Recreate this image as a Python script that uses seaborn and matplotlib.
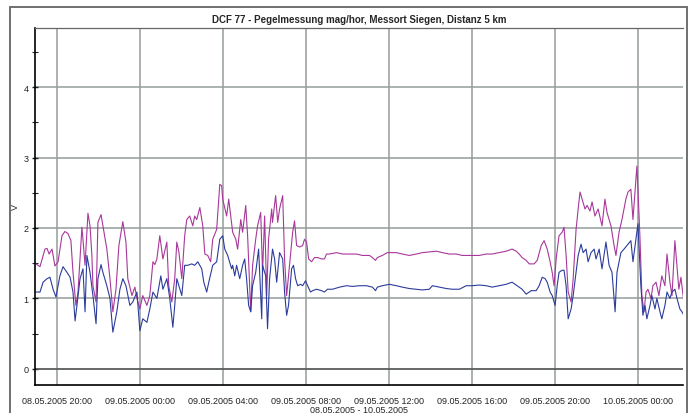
import numpy as np
import pandas as pd
import matplotlib
matplotlib.use("Agg")
import matplotlib.pyplot as plt
import matplotlib.dates as mdates
import matplotlib.ticker as mticker
from matplotlib.patches import Rectangle
import seaborn as sns

TITLE = "DCF 77 - Pegelmessung mag/hor, Messort Siegen, Distanz 5 km"
X_LABEL = "08.05.2005 - 10.05.2005"
Y_LABEL = "V"
START = pd.Timestamp("2005-05-08 20:00")

# hours since 08.05.2005 20:00 / level in V
mag_hours = [
    -1.01, -0.82, -0.58, -0.48, -0.38, -0.24, -0.10, 0.05, 0.24, 0.38, 0.53, 0.67, 0.77, 0.91,
    1.01, 1.20, 1.25, 1.35, 1.44, 1.49, 1.59, 1.68, 1.73, 1.88, 1.97, 2.12, 2.21, 2.40, 2.55,
    2.69, 2.84, 2.98, 3.17, 3.32, 3.41, 3.61, 3.75, 3.85, 3.99, 4.13, 4.33, 4.47, 4.62, 4.71,
    4.81, 4.95, 5.10, 5.29, 5.38, 5.53, 5.67, 5.77, 5.87, 6.01, 6.15, 6.25, 6.39, 6.54, 6.63,
    6.73, 6.88, 7.02, 7.12, 7.26, 7.40, 7.50, 7.69, 7.84, 7.93, 7.98, 8.17, 8.27, 8.46, 8.61,
    8.70, 8.85, 8.94, 9.09, 9.18, 9.33, 9.42, 9.57, 9.66, 9.81, 9.90, 10.00, 10.10, 10.19,
    10.34, 10.38, 10.53, 10.63, 10.72, 10.87, 10.96, 11.06, 11.20, 11.35, 11.44, 11.54, 11.68,
    11.83, 11.92, 12.02, 12.12, 12.26, 12.40, 12.55, 12.74, 12.88, 12.98, 13.13, 13.46, 13.75,
    14.09, 14.42, 14.71, 15.05, 15.19, 15.34, 15.43, 15.67, 15.91, 16.35, 16.63, 16.97, 17.31,
    17.60, 17.93, 18.27, 18.56, 18.89, 19.23, 19.52, 19.71, 20.00, 20.34, 20.67, 20.96, 21.30,
    21.63, 21.92, 22.12, 22.26, 22.40, 22.60, 22.74, 22.98, 23.13, 23.32, 23.46, 23.61, 23.75,
    23.85, 23.94, 24.04, 24.18, 24.33, 24.42, 24.52, 24.62, 24.76, 24.86, 25.00, 25.10, 25.19,
    25.29, 25.43, 25.53, 25.67, 25.77, 25.91, 26.06, 26.25, 26.39, 26.49, 26.68, 26.83, 26.92,
    27.07, 27.21, 27.40, 27.50, 27.64, 27.74, 27.84, 27.93, 27.98, 28.08, 28.17, 28.27, 28.37,
    28.46, 28.61, 28.70, 28.85, 28.99, 29.13, 29.28, 29.38, 29.52, 29.62, 29.76, 29.86, 29.95,
    30.05, 30.19,
]
mag_values = [
    1.49, 1.45, 1.70, 1.71, 1.63, 1.70, 1.46, 1.52, 1.89, 1.95, 1.92, 1.82, 1.37, 0.90,
    1.09, 2.01, 1.84, 1.47, 1.94, 2.21, 2.03, 1.61, 1.18, 0.95, 2.08, 2.19, 2.03, 1.70, 1.28,
    0.81, 1.13, 1.75, 2.09, 1.80, 1.28, 1.04, 1.16, 1.00, 0.85, 1.04, 0.90, 1.04, 1.52, 1.48,
    1.56, 1.89, 1.56, 1.80, 1.18, 0.95, 1.28, 1.80, 1.66, 1.28, 1.89, 2.12, 2.17, 2.03, 2.17,
    2.12, 2.29, 2.03, 1.63, 1.61, 1.52, 1.84, 1.98, 2.62, 2.60, 2.41, 2.17, 2.41, 1.94, 1.84,
    1.70, 2.12, 1.94, 2.32, 1.89, 0.81, 1.47, 1.84, 2.03, 2.22, 1.37, 2.17, 1.04, 1.84,
    2.27, 2.08, 2.46, 2.08, 2.27, 2.46, 1.56, 1.04, 1.47, 1.94, 2.10, 1.75, 1.73,
    1.75, 1.84, 1.80, 1.56, 1.52, 1.58, 1.58, 1.56, 1.56, 1.63, 1.63, 1.65, 1.63,
    1.63, 1.63, 1.61, 1.61, 1.58, 1.54, 1.58, 1.61, 1.65, 1.65, 1.63, 1.61, 1.63,
    1.65, 1.66, 1.67, 1.65, 1.63, 1.63, 1.61, 1.61, 1.61, 1.61, 1.63, 1.63, 1.65,
    1.67, 1.70, 1.67, 1.63, 1.58, 1.54, 1.49, 1.49, 1.54, 1.75, 1.82, 1.70, 1.52,
    1.37, 1.18, 1.56, 1.89, 1.94, 2.01, 1.61, 1.09, 0.95, 1.28, 1.98, 2.27, 2.51,
    2.41, 2.27, 2.32, 2.24, 2.37, 2.17, 2.27, 2.03, 2.41, 2.22, 2.03, 1.75, 1.61,
    1.94, 2.12, 2.41, 2.51, 2.55, 2.12, 2.51, 2.88, 2.55, 1.84, 1.04, 0.81, 1.09,
    1.13, 1.00, 1.18, 1.23, 1.04, 1.32, 1.18, 1.63, 1.23, 1.04, 1.82, 1.45, 1.13,
    1.30, 0.95,
]

hor_hours = [
    -1.01, -0.82, -0.67, -0.48, -0.34, -0.19, -0.05, 0.14, 0.29, 0.48, 0.63, 0.77, 0.87, 0.96,
    1.11, 1.25, 1.35, 1.44, 1.59, 1.73, 1.88, 1.97, 2.12, 2.21, 2.40, 2.55, 2.69, 2.88, 3.03,
    3.17, 3.32, 3.51, 3.65, 3.85, 3.99, 4.13, 4.33, 4.47, 4.62, 4.81, 5.00, 5.10, 5.29, 5.43,
    5.58, 5.67, 5.77, 6.01, 6.15, 6.30, 6.49, 6.63, 6.78, 6.97, 7.07, 7.21, 7.31, 7.50, 7.69,
    7.84, 7.98, 8.08, 8.22, 8.41, 8.46, 8.56, 8.65, 8.80, 8.94, 9.04, 9.13, 9.23, 9.33, 9.42,
    9.57, 9.71, 9.86, 9.90, 10.05, 10.14, 10.24, 10.38, 10.48, 10.58, 10.72, 10.87, 10.96,
    11.06, 11.15, 11.30, 11.39, 11.49, 11.59, 11.73, 11.83, 11.97, 12.07, 12.21, 12.31, 12.50,
    12.74, 12.88, 13.03, 13.27, 13.61, 13.94, 14.23, 14.57, 14.90, 15.19, 15.34, 15.43, 15.67,
    16.01, 16.35, 16.63, 16.97, 17.31, 17.60, 17.93, 18.08, 18.41, 18.75, 19.04, 19.38, 19.71,
    20.00, 20.34, 20.67, 20.96, 21.30, 21.63, 21.92, 22.16, 22.40, 22.60, 22.84, 23.08, 23.22,
    23.37, 23.51, 23.61, 23.75, 23.85, 23.99, 24.09, 24.18, 24.33, 24.42, 24.52, 24.62, 24.76,
    24.86, 25.00, 25.10, 25.24, 25.34, 25.48, 25.58, 25.72, 25.87, 25.96, 26.11, 26.25, 26.44,
    26.59, 26.73, 26.88, 26.97, 27.16, 27.31, 27.45, 27.64, 27.74, 27.88, 27.98, 28.03, 28.12,
    28.22, 28.32, 28.41, 28.56, 28.65, 28.80, 28.89, 29.04, 29.13, 29.28, 29.38, 29.52, 29.62,
    29.76, 29.86, 30.00, 30.10, 30.19,
]
hor_values = [
    1.09, 1.09, 1.23, 1.28, 1.30, 1.13, 1.02, 1.32, 1.45, 1.37, 1.30, 1.09, 0.68, 0.90,
    1.28, 1.42, 0.81, 1.61, 1.37, 1.04, 0.64, 1.28, 1.48, 1.37, 1.18, 1.00, 0.52, 0.81, 1.13,
    1.28, 1.18, 0.90, 0.95, 1.09, 0.54, 0.71, 0.66, 0.85, 1.09, 1.00, 1.32, 1.13, 1.28, 1.00,
    0.59, 0.90, 1.28, 1.04, 1.47, 1.47, 1.49, 1.47, 1.52, 1.42, 1.23, 1.09, 1.23, 1.47, 1.52,
    1.84, 1.89, 1.70, 1.61, 1.42, 1.47, 1.32, 1.47, 1.28, 1.47, 1.56, 1.28, 0.90, 0.81, 1.18,
    1.37, 1.70, 0.71, 1.47, 1.32, 0.57, 1.28, 1.70, 1.56, 1.23, 1.65, 1.56, 1.09,
    0.76, 0.90, 1.42, 1.47, 1.28, 1.18, 1.20, 1.18, 1.25, 1.18, 1.09, 1.11, 1.13,
    1.11, 1.09, 1.13, 1.13, 1.16, 1.18, 1.17, 1.18, 1.18, 1.16, 1.11, 1.16, 1.18,
    1.20, 1.18, 1.16, 1.14, 1.13, 1.12, 1.13, 1.18, 1.16, 1.14, 1.13, 1.13, 1.18,
    1.18, 1.19, 1.18, 1.16, 1.18, 1.20, 1.23, 1.18, 1.13, 1.06, 1.11, 1.11, 1.18,
    1.30, 1.28, 1.23, 1.09, 1.04, 0.90, 1.18, 1.37, 1.40, 1.40, 1.18, 0.71, 0.85,
    1.04, 1.37, 1.61, 1.77, 1.65, 1.70, 1.52, 1.65, 1.70, 1.56, 1.70, 1.42, 1.80,
    1.47, 1.37, 0.81, 1.37, 1.65, 1.70, 1.75, 1.82, 1.52, 1.84, 2.06, 1.75, 1.18,
    0.76, 0.90, 0.71, 0.90, 1.04, 0.85, 1.00, 0.81, 0.71, 0.90, 1.09, 1.00, 1.09,
    1.13, 1.00, 0.85, 0.81, 0.76,
]

COLORS = {"mag": "#a8389a", "hor": "#2c3c9c"}

df = pd.concat([
    pd.DataFrame({"t": START + pd.to_timedelta(mag_hours, unit="h"), "v": mag_values, "s": "mag"}),
    pd.DataFrame({"t": START + pd.to_timedelta(hor_hours, unit="h"), "v": hor_values, "s": "hor"}),
], ignore_index=True)

sns.set_style("white")
plt.rcParams["font.family"] = ["Liberation Sans Narrow", "Liberation Sans", "DejaVu Sans"]

fig = plt.figure(figsize=(6.9, 4.14), dpi=100)
ax = fig.add_axes([35 / 690, 1 - 386 / 414, 648 / 690, 357 / 414])

sns.lineplot(data=df, x="t", y="v", hue="s", palette=COLORS, estimator=None,
             sort=False, linewidth=0.8, legend=False, ax=ax)

ax.set_xlim(START + pd.to_timedelta(-1.06, unit="h"), START + pd.to_timedelta(30.15, unit="h"))
ax.set_ylim(-0.23, 4.84)

ax.xaxis.set_major_locator(mdates.HourLocator(byhour=[0, 4, 8, 12, 16, 20]))
ax.xaxis.set_major_formatter(mdates.DateFormatter("%d.%m.%Y %H:%M"))
ax.yaxis.set_major_locator(mticker.MultipleLocator(1))
ax.yaxis.set_minor_locator(mticker.MultipleLocator(0.5))
ax.grid(True, which="major", color="#949c9c", linewidth=1.1)
ax.axhline(0, color="#555555", linewidth=1.1, zorder=1)

ax.tick_params(axis="x", length=0, pad=8, labelsize=6.5, colors="#222222")
ax.tick_params(axis="y", which="major", direction="inout", length=5, width=1,
               pad=2, labelsize=6.5, left=True, colors="#222222")
ax.tick_params(axis="y", which="minor", direction="inout", length=4, width=0.8, left=True)

for side in ["left", "bottom"]:
    ax.spines[side].set_color("black")
    ax.spines[side].set_linewidth(1.2)
ax.spines["top"].set_color("#666666")
ax.spines["top"].set_linewidth(0.9)
ax.spines["right"].set_visible(False)

ax.set_xlabel(X_LABEL, fontsize=6.5, labelpad=0)
ax.set_ylabel(Y_LABEL, fontsize=6.5)
ax.yaxis.set_label_coords(-15 / 648, 0.5)
ax.set_title(TITLE, fontsize=7, fontweight="bold", family=["Liberation Sans", "DejaVu Sans"],
             pad=4)

fig.patches.append(Rectangle((10 / 690, -0.01), 677 / 690, 1.01 - 8 / 414,
                             transform=fig.transFigure, fill=False,
                             edgecolor="#707070", linewidth=1.4))

fig.savefig("out.png", dpi=100, facecolor="white")
